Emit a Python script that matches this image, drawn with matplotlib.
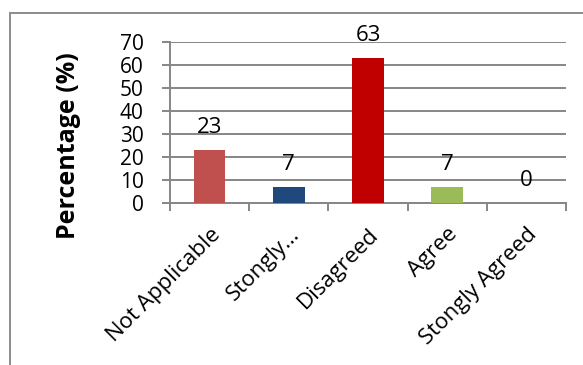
import matplotlib.pyplot as plt
from matplotlib.patches import Rectangle
from matplotlib.transforms import ScaledTranslation
import numpy as np

# survey responses
categories = ["Not Applicable", "Stongly…", "Disagreed", "Agree", "Stongly Agreed"]
percentages = [23, 7, 63, 7, 0]
bar_colors = ["#C0504D", "#1F497D", "#C00000", "#9BBB59", "#4BACC6"]

plt.rcParams['font.family'] = ['Open Sans', 'DejaVu Sans']

fig = plt.figure(figsize=(5.83, 3.65), dpi=100)
ax = fig.add_axes([170 / 583, 1 - 203 / 365, 396 / 583, 161 / 365])

# chart frame around everything
fig.patches.append(Rectangle((10 / 583, -0.05), 1.1, 1 - 13 / 365 + 0.05,
                             transform=fig.transFigure, fill=False,
                             edgecolor="#8C8C8C", linewidth=1.4))

x = np.arange(len(categories))
ax.bar(x, percentages, width=0.4, color=bar_colors, zorder=3)

for xi, v in zip(x, percentages):
    ax.annotate(str(v), (xi, v), xytext=(0, 12), textcoords="offset points",
                ha="center", va="baseline", fontsize=16)

ax.set_xlim(-0.5, len(categories) - 0.5)
ax.set_ylim(0, 70)
ax.set_yticks(range(0, 71, 10))
ax.yaxis.grid(True, color="#868686", linewidth=1.4, zorder=0)

gray = "#868686"
for side in ["top", "right"]:
    ax.spines[side].set_visible(False)
for side in ["left", "bottom"]:
    ax.spines[side].set_color(gray)
    ax.spines[side].set_linewidth(1.4)

# x ticks sit between categories, labels at category centres
ax.set_xticks(np.arange(-0.5, len(categories)), minor=False)
ax.set_xticklabels([])
ax.set_xticks(x, minor=True)
ax.set_xticklabels(categories, minor=True, rotation=45, ha="right", va="top",
                   rotation_mode="anchor", fontsize=16)
shift = ScaledTranslation(-5 / 72, 0, fig.dpi_scale_trans)
for lbl in ax.get_xticklabels(minor=True):
    lbl.set_transform(lbl.get_transform() + shift)
ax.tick_params(axis="x", which="major", length=6, color=gray, width=1.4)
ax.tick_params(axis="x", which="minor", length=0, pad=15)
ax.tick_params(axis="y", length=6, color=gray, width=1.4, labelsize=15, pad=13)

ax.set_ylabel("Percentage (%)", fontsize=18, fontweight="bold")
ax.yaxis.set_label_coords(-0.225, 0.354)

fig.savefig("out.png", dpi=100)
